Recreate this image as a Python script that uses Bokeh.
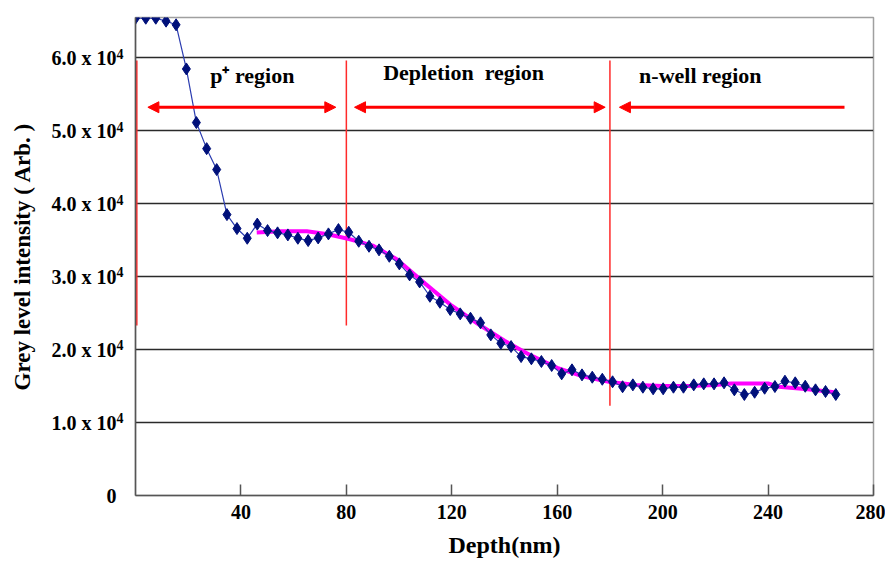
from bokeh.plotting import figure
from bokeh.models import (Range1d, FixedTicker, Arrow, NormalHead, ColumnDataSource,
                          LinearAxis, Grid)
from bokeh.core.properties import value
from bokeh.embed import file_html
from bokeh.resources import INLINE

# ---- data ----
depth_nm = [0.0, 3.9, 7.7, 11.6, 15.4, 19.3, 23.1, 27.0, 30.8, 34.7,
            38.5, 42.4, 46.2, 50.1, 53.9, 57.8, 61.6, 65.5, 69.3, 73.2,
            77.0, 80.9, 84.7, 88.6, 92.4, 96.3, 100.1, 104.0, 107.8, 111.7,
            115.5, 119.4, 123.2, 127.1, 130.9, 134.8, 138.6, 142.5, 146.3, 150.2,
            154.0, 157.9, 161.7, 165.6, 169.4, 173.3, 177.1, 181.0, 184.8, 188.7,
            192.5, 196.4, 200.2, 204.1, 207.9, 211.8, 215.6, 219.5, 223.3, 227.2,
            231.0, 234.9, 238.7, 242.6, 246.4, 250.3, 254.1, 258.0, 261.8, 265.7]
grey_level = [65400, 65400, 65400, 65000, 64500, 58450, 51100, 47530, 44660, 38490,
              36580, 35250, 37190, 36300, 35990, 35710, 35250, 34930, 35300, 35850,
              36440, 36070, 34840, 34150, 33660, 32780, 31740, 30230, 29270, 27300,
              26480, 25480, 24890, 24290, 23660, 22010, 20860, 20410, 19040, 18730,
              18360, 17810, 16670, 17220, 16530, 16210, 15930, 15580, 14900, 15160,
              14840, 14620, 14620, 14840, 14840, 15160, 15300, 15300, 15440, 14480,
              13840, 14150, 14700, 14930, 15660, 15440, 14970, 14480, 14250, 13840]

fit_depth = [46, 55, 65, 73, 81, 90, 99, 110, 120, 130, 140, 150, 160, 170, 180,
             190, 200, 210, 220, 226, 240, 244, 255, 266]
fit_level = [36050, 36200, 36200, 35800, 35150, 34250, 32400, 29000, 26000, 23500,
             21200, 19200, 17500, 16300, 15550, 15150, 15000, 15000, 15150, 15350,
             15350, 14900, 14550, 14100]

y_ticks = [0, 10000, 20000, 30000, 40000, 50000, 60000]
y_tick_mantissa = ["0", "1.0 x 10", "2.0 x 10", "3.0 x 10",
                   "4.0 x 10", "5.0 x 10", "6.0 x 10"]
y_tick_exponent = ["", "4", "4", "4", "4", "4", "4"]
x_ticks = [40, 80, 120, 160, 200, 240, 280]

# region boundaries and annotations
boundary_x = [0.5, 80, 180]
boundary_top = [59600, 59600, 59600]
boundary_bottom = [23300, 23300, 12300]
arrow_y = 53200
arrow_spans = [(4.7, 76.0, True, True), (83.1, 178.2, True, True), (183.6, 269.0, True, False)]
region_names = ["p\u207a region", "Depletion\u00a0 region", "n-well region"]
region_label_x = [44.3, 124.5, 214.3]
region_label_y = [57600, 57900, 57600]

FONT = "Liberation Serif"
Y_MAX = 65500
SUP_SHIFT = 560  # raises the exponent labels a few pixels

p = figure(width=885, height=561, output_backend="svg", toolbar_location=None,
           x_range=Range1d(0, 280), y_range=Range1d(0, Y_MAX), y_axis_location=None,
           min_border_left=135, min_border_right=12, min_border_top=17, min_border_bottom=66)
p.extra_y_ranges = {"sup": Range1d(-SUP_SHIFT, Y_MAX - SUP_SHIFT)}
p.background_fill_color = "white"
p.border_fill_color = "white"
p.outline_line_color = "#a0a0a0"
p.outline_line_width = 1.5

# grid
p.xgrid.visible = False
p.add_layout(Grid(dimension=1, ticker=FixedTicker(ticks=y_ticks[1:]),
                  grid_line_color="#2a2a2a", grid_line_width=1.5))

# inner y axis: axis line + superscript exponents
ax_exp = LinearAxis(y_range_name="sup", ticker=FixedTicker(ticks=y_ticks),
                    major_label_overrides={t: e for t, e in zip(y_ticks, y_tick_exponent)},
                    major_tick_in=0, major_tick_out=0, minor_tick_line_color=None,
                    axis_line_color="#555555", axis_line_width=1.5,
                    major_label_standoff=12, major_label_text_font=FONT,
                    major_label_text_font_style="bold", major_label_text_font_size="14px",
                    major_label_text_color="black")
p.add_layout(ax_exp, "left")

# outer y axis: mantissa labels + title
ax_main = LinearAxis(ticker=FixedTicker(ticks=y_ticks),
                     major_label_overrides={t: m for t, m in zip(y_ticks, y_tick_mantissa)},
                     major_tick_in=0, major_tick_out=0, minor_tick_line_color=None,
                     axis_line_color=None, major_label_standoff=-3,
                     major_label_text_font=FONT, major_label_text_font_style="bold",
                     major_label_text_font_size="20px", major_label_text_color="black",
                     axis_label="Grey level intensity ( Arb. )", axis_label_text_font=FONT,
                     axis_label_text_font_style="bold", axis_label_text_font_size="23px",
                     axis_label_text_color="black", axis_label_standoff=14)
p.add_layout(ax_main, "left")

# x axis
p.xaxis.ticker = FixedTicker(ticks=x_ticks)
p.xaxis.major_tick_in = 11
p.xaxis.major_tick_out = 0
p.xaxis.major_tick_line_color = "#555555"
p.xaxis.major_tick_line_width = 1.5
p.xaxis.minor_tick_line_color = None
p.xaxis.axis_line_color = "#555555"
p.xaxis.axis_line_width = 1.5
p.xaxis.major_label_standoff = 9
p.xaxis.major_label_text_font = FONT
p.xaxis.major_label_text_font_style = "bold"
p.xaxis.major_label_text_font_size = "20px"
p.xaxis.major_label_text_color = "black"
p.xaxis.axis_label = "Depth(nm)"
p.xaxis.axis_label_text_font = FONT
p.xaxis.axis_label_text_font_style = "bold"
p.xaxis.axis_label_text_font_size = "24px"
p.xaxis.axis_label_text_color = "black"
p.xaxis.axis_label_standoff = 10

# region boundary lines
p.segment(x0=boundary_x, y0=boundary_bottom, x1=boundary_x, y1=boundary_top,
          line_color="#ff2a2a", line_width=1.5)

# arrows
for x0, x1, head_left, head_right in arrow_spans:
    hl = NormalHead(size=11, fill_color="#ff0000", line_color="#ff0000") if head_left else None
    hr = NormalHead(size=11, fill_color="#ff0000", line_color="#ff0000") if head_right else None
    p.add_layout(Arrow(x_start=x0, y_start=arrow_y, x_end=x1, y_end=arrow_y,
                       start=hl, end=hr, line_color="#ff0000", line_width=3))

# region labels
p.text(x=region_label_x, y=region_label_y, text=region_names,
       text_font=value(FONT), text_font_style="bold", text_font_size="22px",
       text_align="center", text_baseline="middle", text_color="black")

# fitted curve
p.line(fit_depth, fit_level, line_color="#ff00ff", line_width=4)

# measured data
src = ColumnDataSource(dict(x=depth_nm, y=grey_level))
p.line("x", "y", source=src, line_color="#2b3cb0", line_width=1.2)
p.scatter("x", "y", source=src, marker="diamond", size=12,
          fill_color="#00107a", line_color="#00107a")

open("out.html", "w").write(file_html(p, INLINE))
